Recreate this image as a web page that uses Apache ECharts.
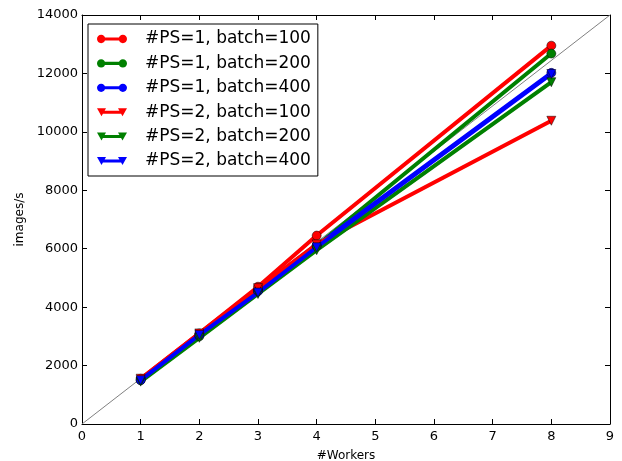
<!DOCTYPE html>
<html>
<head>
<meta charset="utf-8">
<script src="https://cdn.jsdelivr.net/npm/echarts@6/dist/echarts.min.js"></script>
<style>
  html, body { margin: 0; padding: 0; background: #fff; }
  #chart { width: 622px; height: 461px; }
</style>
</head>
<body>
<div id="chart"></div>
<script>
// workers on x, throughput (images/s) on y
var workers = [1, 2, 3, 4, 8]
var ps1_b100 = [1550, 3100, 4700, 6450, 12950]
var ps1_b200 = [1500, 3000, 4550, 6100, 12680]
var ps1_b400 = [1500, 3050, 4550, 6100, 12020]
var ps2_b100 = [1550, 3100, 4650, 6150, 10380]
var ps2_b200 = [1450, 2950, 4450, 5950, 11700]
var ps2_b400 = [1500, 3050, 4500, 6050, 11980]
var idealLine = [[0, 0], [9, 14000]]
var xTicks = [0, 1, 2, 3, 4, 5, 6, 7, 8, 9]
var yTicks = [0, 2000, 4000, 6000, 8000, 10000, 12000, 14000]

var font = 'DejaVu Sans'

// legend icons like matplotlib: a line with a marker at each end
function circ(cx, cy, r) {
  var k = 0.552 * r
  return 'M' + (cx - r) + ',' + cy +
    'C' + (cx - r) + ',' + (cy - k) + ' ' + (cx - k) + ',' + (cy - r) + ' ' + cx + ',' + (cy - r) +
    'C' + (cx + k) + ',' + (cy - r) + ' ' + (cx + r) + ',' + (cy - k) + ' ' + (cx + r) + ',' + cy +
    'C' + (cx + r) + ',' + (cy + k) + ' ' + (cx + k) + ',' + (cy + r) + ' ' + cx + ',' + (cy + r) +
    'C' + (cx - k) + ',' + (cy + r) + ' ' + (cx - r) + ',' + (cy + k) + ' ' + (cx - r) + ',' + cy + 'Z'
}
var circleIcon = 'path://M4,3H26V6H4Z ' + circ(4.5, 4.5, 4) + ' ' + circ(25.5, 4.5, 4)
var triIcon = 'path://M4,2.5H26V5.5H4Z M0,0L9,0L4.5,8Z M21,0L30,0L25.5,8Z'

function zip(ys) {
  return workers.map(function (w, i) { return [w, ys[i]] })
}

function mk(name, ys, color, symbol) {
  return {
    name: name,
    type: 'line',
    data: zip(ys),
    symbol: symbol,
    symbolRotate: symbol === 'triangle' ? 180 : 0,
    symbolSize: 9,
    lineStyle: { color: color, width: 4 },
    itemStyle: { color: color, borderColor: '#000', borderWidth: 0.5 },
    emphasis: { disabled: true },
    animation: false,
    z: 3
  }
}

var chart = echarts.init(document.getElementById('chart'))
var axisCommon = {
  type: 'value',
  axisLine: { show: true, onZero: false, lineStyle: { color: '#000', width: 1 } },
  axisTick: { show: true, inside: true, length: 5, lineStyle: { color: '#000' } },
  splitLine: { show: false }
}

var option = {
  backgroundColor: '#fff',
  textStyle: { fontFamily: font },
  grid: { left: 82, right: 12, top: 15, bottom: 37, outerBoundsMode: 'none' },
  legend: {
    orient: 'vertical',
    left: 88,
    top: 24,
    padding: [5, 7, 5, 9],
    itemWidth: 30,
    itemHeight: 9,
    itemGap: 4.4,
    borderColor: '#000',
    borderWidth: 1,
    backgroundColor: '#fff',
    itemStyle: { borderWidth: 0 },
    textStyle: { fontFamily: font, fontSize: 17, color: '#000', lineHeight: 20, padding: [0, 0, 0, 13] },
    data: [
      { name: '#PS=1, batch=100', icon: circleIcon },
      { name: '#PS=1, batch=200', icon: circleIcon },
      { name: '#PS=1, batch=400', icon: circleIcon },
      { name: '#PS=2, batch=100', icon: triIcon },
      { name: '#PS=2, batch=200', icon: triIcon },
      { name: '#PS=2, batch=400', icon: triIcon }
    ]
  },
  xAxis: [
    Object.assign({}, axisCommon, {
      min: xTicks[0], max: xTicks[xTicks.length - 1], interval: 1,
      name: '#Workers', nameLocation: 'middle', nameGap: 26,
      nameTextStyle: { fontFamily: font, fontSize: 12, color: '#000' },
      axisLabel: { fontFamily: font, fontSize: 13, color: '#000', margin: 6 }
    }),
    Object.assign({}, axisCommon, {
      position: 'top', min: 0, max: 9, interval: 1,
      axisLabel: { show: false }
    })
  ],
  yAxis: [
    Object.assign({}, axisCommon, {
      min: yTicks[0], max: yTicks[yTicks.length - 1], interval: 2000,
      name: 'images/s', nameLocation: 'middle', nameGap: 50,
      nameTextStyle: { fontFamily: font, fontSize: 12, color: '#000' },
      axisLabel: { fontFamily: font, fontSize: 13, color: '#000', margin: 4, formatter: function (v) { return String(v) } }
    }),
    Object.assign({}, axisCommon, {
      position: 'right', min: 0, max: 14000, interval: 2000,
      axisLabel: { show: false }
    })
  ],
  series: [
    {
      name: 'ideal',
      type: 'line',
      data: idealLine,
      symbol: 'none',
      silent: true,
      lineStyle: { color: '#808080', width: 1 },
      animation: false,
      z: 2
    },
    mk('#PS=1, batch=100', ps1_b100, '#ff0000', 'circle'),
    mk('#PS=1, batch=200', ps1_b200, '#008000', 'circle'),
    mk('#PS=1, batch=400', ps1_b400, '#0000ff', 'circle'),
    mk('#PS=2, batch=100', ps2_b100, '#ff0000', 'triangle'),
    mk('#PS=2, batch=200', ps2_b200, '#008000', 'triangle'),
    mk('#PS=2, batch=400', ps2_b400, '#0000ff', 'triangle')
  ]
}
chart.setOption(option)
</script>
</body>
</html>
